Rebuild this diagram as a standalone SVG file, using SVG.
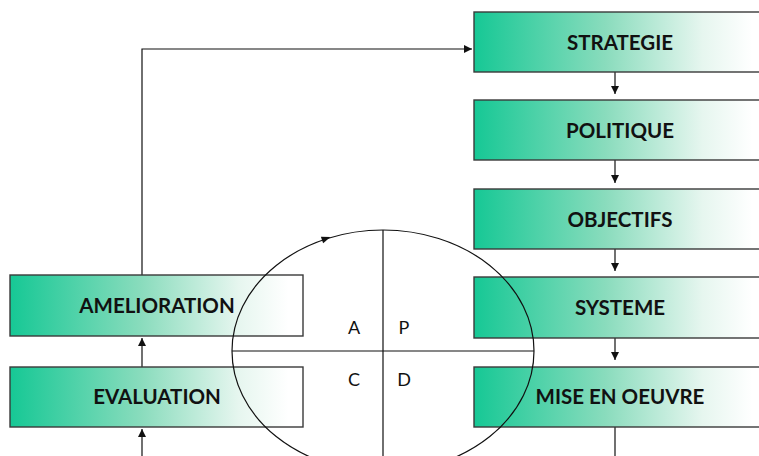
<svg xmlns="http://www.w3.org/2000/svg" width="759" height="456" viewBox="0 0 759 456">
<style>
.box{stroke:#3a3a3a;stroke-width:1.4;fill:url(#g)}
.lbl{font-family:Lato,"Liberation Sans",sans-serif;font-weight:bold;font-size:20.5px;fill:#111;text-anchor:middle}
.ltr{font-family:Lato,"Liberation Sans",sans-serif;font-size:18px;fill:#111;text-anchor:middle}
.ln{stroke:#111;stroke-width:1.2;fill:none}
</style>
<defs>
<linearGradient id="g" x1="0" y1="0" x2="1" y2="0">
<stop offset="0" stop-color="#16c895"/>
<stop offset="0.45" stop-color="#8adcbd"/>
<stop offset="0.78" stop-color="#e6f6ef"/>
<stop offset="0.95" stop-color="#ffffff"/>
</linearGradient>
<marker id="ah" viewBox="0 0 10 10" refX="10" refY="5" markerWidth="8" markerHeight="8" markerUnits="userSpaceOnUse" orient="auto">
<path d="M0,0 L10,5 L0,10 z" fill="#111"/>
</marker>
</defs>
<g id="connectors">
<path class="ln" d="M142,275 V49 H472" marker-end="url(#ah)"/>
<path class="ln" d="M615,72 V94" marker-end="url(#ah)"/>
<path class="ln" d="M615,160 V183" marker-end="url(#ah)"/>
<path class="ln" d="M615,249 V271" marker-end="url(#ah)"/>
<path class="ln" d="M615,338 V360" marker-end="url(#ah)"/>
<path class="ln" d="M615,427 V456"/>
<path class="ln" d="M142,367 V338" marker-end="url(#ah)"/>
<path class="ln" d="M142,456 V429" marker-end="url(#ah)"/>
</g>
<g id="strategie"><rect class="box" x="474" y="12" width="293" height="60"/><text class="lbl" x="620" y="50">STRATEGIE</text></g>
<g id="politique"><rect class="box" x="474" y="100" width="293" height="60"/><text class="lbl" x="620" y="138">POLITIQUE</text></g>
<g id="objectifs"><rect class="box" x="474" y="189" width="293" height="60"/><text class="lbl" x="620" y="227">OBJECTIFS</text></g>
<g id="systeme"><rect class="box" x="474" y="277" width="293" height="61"/><text class="lbl" x="620" y="315">SYSTEME</text></g>
<g id="mise-en-oeuvre"><rect class="box" x="474" y="367" width="293" height="60"/><text class="lbl" x="620" y="404">MISE EN OEUVRE</text></g>
<g id="amelioration"><rect class="box" x="10" y="275" width="293" height="61"/><text class="lbl" x="157" y="313">AMELIORATION</text></g>
<g id="evaluation"><rect class="box" x="10" y="367" width="293" height="60"/><text class="lbl" x="157" y="404">EVALUATION</text></g>
<g id="pdca">
<ellipse class="ln" cx="383" cy="351" rx="151" ry="121"/>
<path class="ln" d="M383,230 V456 M232,351 H534"/>
<polygon points="0,-3.5 9,0 0,3.5" fill="#111" transform="translate(322,240) rotate(-19)"/>
<text class="ltr" x="354" y="334">A</text>
<text class="ltr" x="404" y="334">P</text>
<text class="ltr" x="354" y="386">C</text>
<text class="ltr" x="404" y="386">D</text>
</g>
</svg>
